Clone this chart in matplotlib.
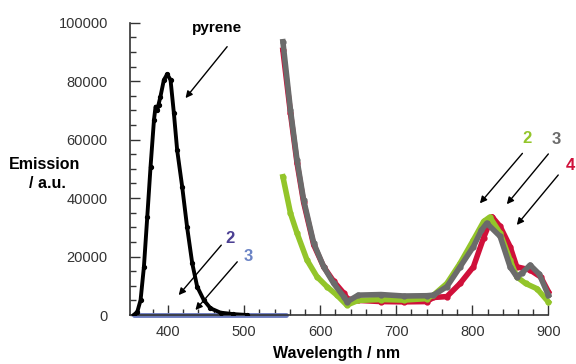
import matplotlib

matplotlib.use("Agg")
import matplotlib.pyplot as plt
from matplotlib.ticker import MultipleLocator

plt.rcParams["font.family"] = ["Liberation Sans", "DejaVu Sans"]

# pyrene emission (black)
pyr_x = [355, 359.6, 363.9, 368.3, 372.7, 377, 381.5, 383.6, 385.8, 387.5, 390, 394.5, 398.9,
         403.3, 407.7, 412, 418.6, 425, 431.8, 438.3, 447, 455.8, 469, 486, 504]
pyr_y = [0, 1100, 5100, 16500, 33600, 50700, 66700, 71300, 70100, 72000, 74700, 80400, 82400,
         80400, 69000, 56400, 43900, 30200, 17700, 9700, 5100, 2300, 800, 300, 0]

# compounds 2 and 3 in the pyrene region (flat baseline)
base_x = [355, 555]
base_y = [0, 0]

# NIR emission of 2 (green), 3 (gray), 4 (red)
w2 = [551, 561, 569.6, 582.7, 595.8, 608.9, 622, 635, 650, 680, 710, 740, 749, 766.6, 784,
      801.5, 815, 823, 836.6, 849.7, 858.4, 870, 885, 900]
e2 = [47300, 34800, 28000, 18800, 13100, 9700, 6800, 3400, 5000, 5300, 5100, 5600, 6800,
      10800, 17700, 25700, 32000, 33500, 28000, 18800, 13100, 10800, 9000, 4500]

w3 = [551, 561, 569.6, 578.3, 591.5, 604.6, 617.8, 630.9, 635.3, 650, 680, 710, 740, 749,
      766.6, 784, 801.5, 812, 819, 836.6, 849.7, 858.4, 866, 876, 888, 900]
e3 = [93500, 70100, 53000, 39300, 24600, 16500, 10800, 6300, 4500, 6800, 7000, 6500, 6600,
      6800, 9700, 16500, 23400, 29000, 31400, 26900, 16500, 13100, 14500, 17100, 14000, 6800]

w4 = [551, 561, 569.6, 578.3, 591.5, 604.6, 617.8, 630.9, 636, 650, 680, 710, 740, 749,
      766.6, 784, 801.5, 815, 826, 836.6, 849.7, 858.4, 876, 890, 900]
e4 = [90600, 69000, 52000, 38500, 24000, 16500, 11500, 7500, 5500, 5000, 4600, 4500, 4600,
      6000, 6300, 10800, 16500, 26500, 33600, 30300, 23400, 16500, 15400, 13000, 8000]

fig = plt.figure(figsize=(5.76, 3.64), dpi=100)
ax = fig.add_axes([0.2257, 0.1346, 0.7263, 0.803])

ax.plot(base_x, base_y, color="#6b7bbf", lw=3.5, solid_capstyle="round", zorder=2, clip_on=False)
ax.plot(pyr_x, pyr_y, color="black", lw=2.8, marker="o", ms=2.8, zorder=3)
ax.plot(w4, e4, color="#d0103a", lw=4, marker="o", ms=3.5, zorder=3, clip_on=False)
ax.plot(w2, e2, color="#93c52a", lw=4, marker="o", ms=3.5, zorder=4, clip_on=False)
ax.plot(w3, e3, color="#6b6b6b", lw=4, marker="o", ms=3.5, zorder=5, clip_on=False)

ax.set_xlim(350, 900)
ax.set_ylim(0, 100000)
ax.xaxis.set_major_locator(MultipleLocator(100))
ax.xaxis.set_minor_locator(MultipleLocator(20))
ax.yaxis.set_major_locator(MultipleLocator(20000))
ax.yaxis.set_minor_locator(MultipleLocator(5000))
ax.set_xticks([400, 500, 600, 700, 800, 900])
ax.tick_params(which="both", direction="in", color="#333333", width=1, labelsize=10.5,
               labelcolor="#333333")
ax.tick_params(which="major", length=7)
ax.tick_params(which="minor", length=4)
ax.tick_params(axis="x", which="major", pad=7)
ax.tick_params(axis="y", which="major", pad=16)
for s in ["top", "right"]:
    ax.spines[s].set_visible(False)
for s in ["left", "bottom"]:
    ax.spines[s].set_color("#333333")
    ax.spines[s].set_linewidth(1.2)

fig.text(0.078, 0.547, "Emission", fontsize=11.5, fontweight="bold", ha="center", va="center")
fig.text(0.082, 0.497, "/ a.u.", fontsize=11.5, fontweight="bold", ha="center", va="center")
fig.text(0.585, 0.03, "Wavelength / nm", fontsize=11.5, fontweight="bold", ha="center",
         va="center")

arrow = dict(arrowstyle="-|>", color="black", lw=1.0, mutation_scale=10, shrinkA=0, shrinkB=0)
ax.text(465, 98200, "pyrene", fontsize=11, fontweight="bold", ha="center", va="center")
ax.annotate("", xy=(423, 74200), xytext=(477.7, 91800), arrowprops=arrow)
ax.text(482, 26200, "2", fontsize=12, fontweight="bold", color="#4b3f93", ha="center", va="center")
ax.annotate("", xy=(414, 6800), xytext=(470, 23900), arrowprops=arrow)
ax.text(506, 19900, "3", fontsize=12, fontweight="bold", color="#6a83c5", ha="center", va="center")
ax.annotate("", xy=(436, 1700), xytext=(491, 18200), arrowprops=arrow)

ax.text(871.6, 60400, "2", fontsize=12, fontweight="bold", color="#93c52a", ha="center",
        va="center", clip_on=False)
ax.annotate("", xy=(810, 38200), xytext=(865.9, 55300), arrowprops=arrow)
ax.text(910, 59900, "3", fontsize=12, fontweight="bold", color="#6b6b6b", ha="center",
        va="center", clip_on=False)
ax.annotate("", xy=(845.4, 37900), xytext=(900, 55100), arrowprops=arrow, annotation_clip=False)
ax.text(928.5, 51300, "4", fontsize=12, fontweight="bold", color="#d0103a", ha="center",
        va="center", clip_on=False)
ax.annotate("", xy=(858.5, 30800), xytext=(913, 47900), arrowprops=arrow, annotation_clip=False)

fig.savefig("out.png", dpi=100)
